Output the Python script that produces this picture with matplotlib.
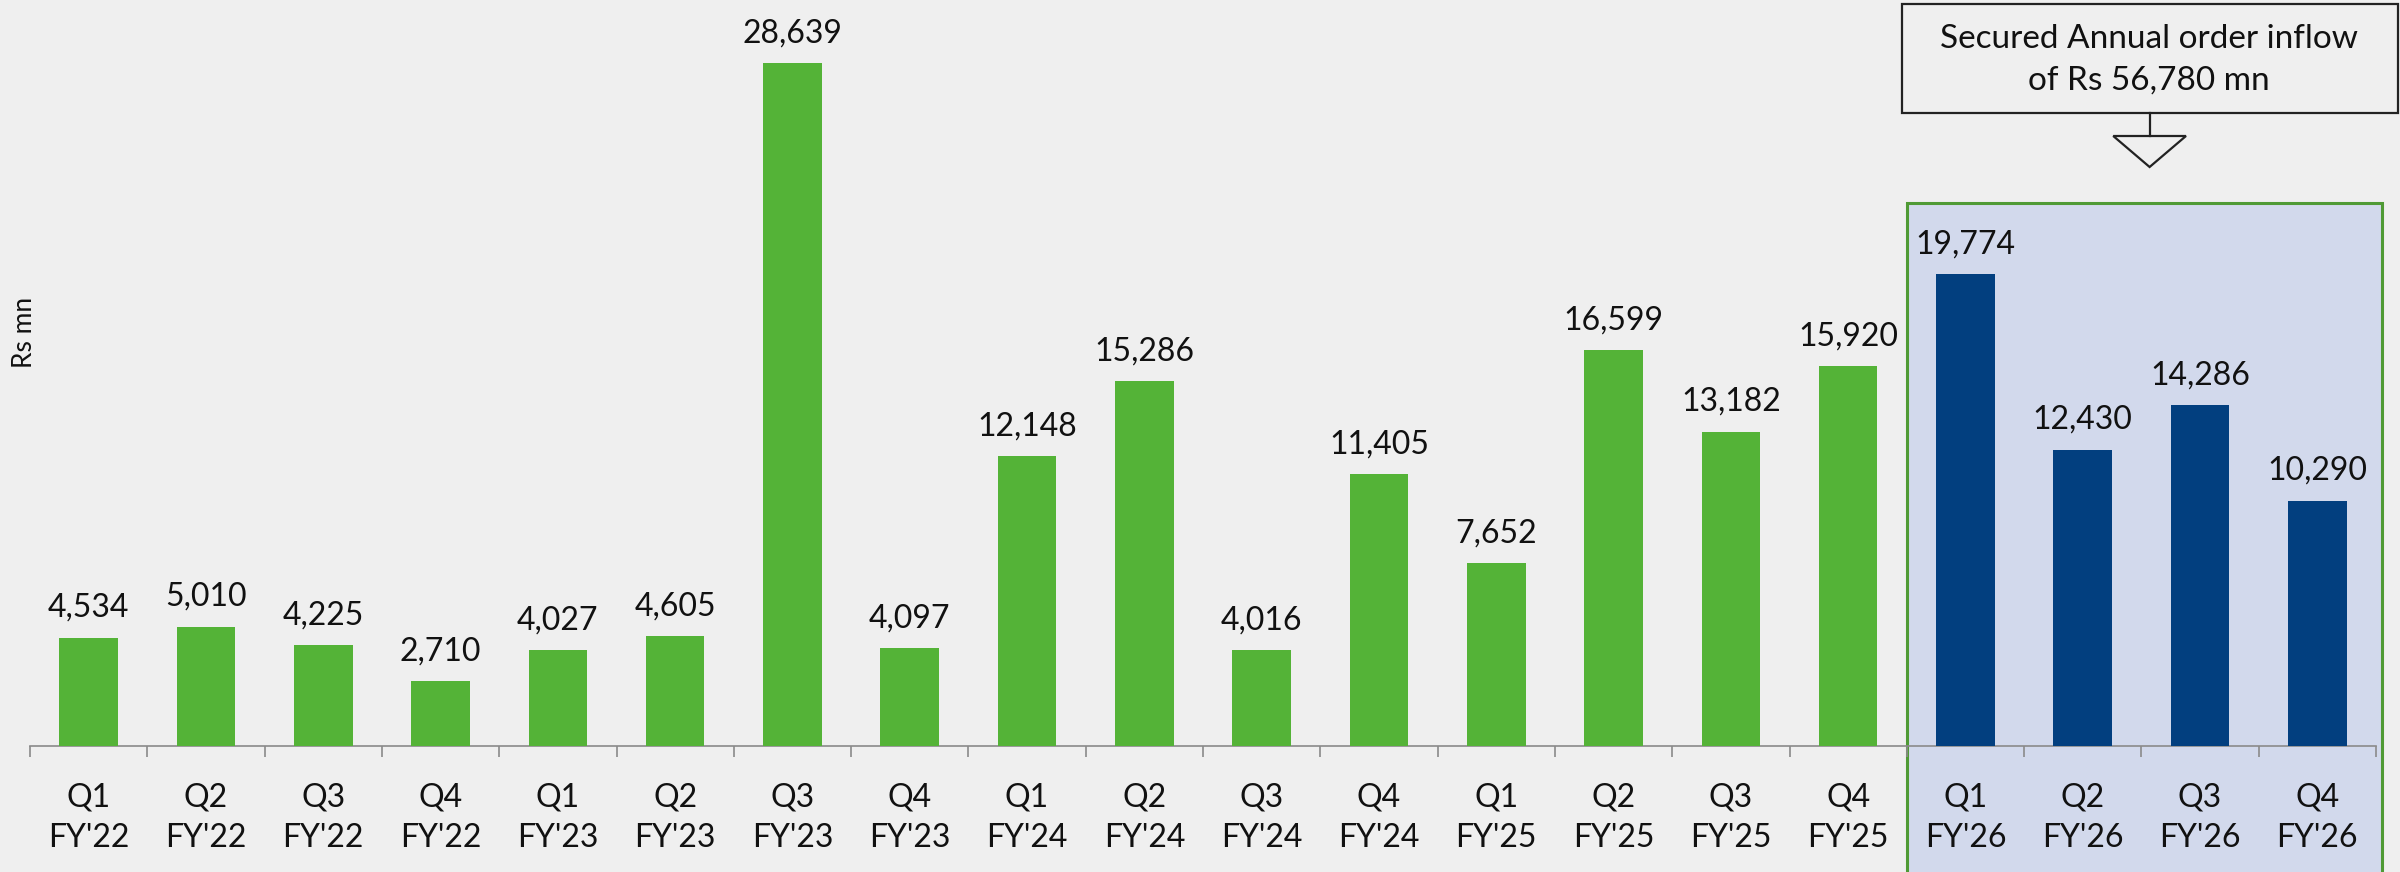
import matplotlib.pyplot as plt
from matplotlib.patches import Rectangle, Polygon
import matplotlib.transforms as mtransforms

plt.rcParams['font.family'] = ['Lato', 'DejaVu Sans']

quarters = ['Q1', 'Q2', 'Q3', 'Q4'] * 5
years = ["FY'22"] * 4 + ["FY'23"] * 4 + ["FY'24"] * 4 + ["FY'25"] * 4 + ["FY'26"] * 4
values = [4534, 5010, 4225, 2710,
          4027, 4605, 28639, 4097,
          12148, 15286, 4016, 11405,
          7652, 16599, 13182, 15920,
          19774, 12430, 14286, 10290]
highlight_start = 16  # FY'26 bars
callout_text = "Secured Annual order inflow\nof Rs 56,780 mn"

green = '#54b337'
blue = '#023f7f'
bg = '#efefef'

W, H = 2400, 872
fig = plt.figure(figsize=(W / 100, H / 100), dpi=100)
fig.patch.set_facecolor(bg)

base_px = 746
ax = fig.add_axes([30 / W, (H - base_px) / H, (2376 - 30) / W, base_px / H])
ax.set_facecolor('none')

n = len(values)
x = list(range(n))
colors = [green if i < highlight_start else blue for i in x]

# shaded FY'26 region, behind the bars
tr = mtransforms.blended_transform_factory(ax.transData, fig.transFigure)
shade = Rectangle((highlight_start - 0.5, -0.02), 4.05, (H - 203) / H + 0.02,
                  transform=tr, facecolor='#d2d9ec', edgecolor='#4f9a35',
                  linewidth=2.2, clip_on=False, zorder=0)
ax.add_patch(shade)

ax.bar(x, values, width=0.5, color=colors, zorder=3)
for i, v in enumerate(values):
    ax.annotate(f'{v:,}', (i, v), xytext=(0, 15), textcoords='offset points',
                ha='center', va='baseline', fontsize=23, color='#111111')

ax.set_xlim(-0.5, n - 0.5)
ax.set_ylim(0, base_px / 0.02385)

ax.set_xticks(x)
ax.set_xticklabels([f'{q}\n{y}' for q, y in zip(quarters, years)],
                   fontsize=23, linespacing=1.45, color='#111111')
ax.tick_params(axis='x', which='major', length=0, pad=26)
ax.set_xticks([i - 0.5 for i in range(n + 1)], minor=True)
ax.tick_params(axis='x', which='minor', length=8, width=1.2, color='#8a8a8a')
ax.set_yticks([])

for s in ['top', 'right', 'left']:
    ax.spines[s].set_visible(False)
ax.spines['bottom'].set_color('#8a8a8a')
ax.spines['bottom'].set_linewidth(1.2)

fig.text(25 / W, 1 - 332 / H, 'Rs mn', rotation=90, ha='center', va='center',
         fontsize=19, color='#111111')

# callout box with arrow
cx = 17.57
box = Rectangle((highlight_start - 0.54, 1 - 113 / H), 4.23, 109 / H,
                transform=tr, facecolor='none', edgecolor='#222222',
                linewidth=1.6, clip_on=False)
fig.patches.append(box)
fig.text(2149 / W, 1 - 60 / H, callout_text, ha='center', va='center',
         fontsize=24, linespacing=1.5, color='#111111')
fig.lines.append(plt.Line2D([cx, cx], [1 - 113 / H, 1 - 136 / H], transform=tr,
                            color='#222222', linewidth=1.6))
tri = Polygon([(cx - 0.31, 1 - 136 / H), (cx + 0.31, 1 - 136 / H), (cx, 1 - 167 / H)],
              closed=True, transform=tr, facecolor='none', edgecolor='#222222',
              linewidth=1.6, clip_on=False)
fig.patches.append(tri)

fig.savefig('out.png', dpi=100, facecolor=bg)
